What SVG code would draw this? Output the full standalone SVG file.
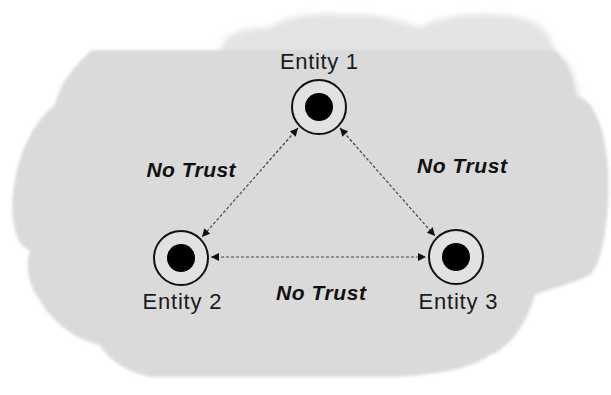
<svg xmlns="http://www.w3.org/2000/svg" width="611" height="395" viewBox="0 0 611 395">
  <defs>
    <filter id="blur" x="-10%" y="-20%" width="120%" height="140%">
      <feGaussianBlur stdDeviation="3"/>
    </filter>
    <filter id="blur2" x="-10%" y="-10%" width="120%" height="120%">
      <feGaussianBlur stdDeviation="1.5"/>
    </filter>
    <marker id="arr" viewBox="0 0 10 10" refX="10" refY="5" markerWidth="9" markerHeight="8" markerUnits="userSpaceOnUse" orient="auto-start-reverse">
      <path d="M0,0 L10,5 L0,10 Z" fill="#111"/>
    </marker>
    <style>
      .lbl { font-family: "Liberation Sans", Arial, sans-serif; font-size: 22px; fill: #1a1a1a; text-anchor: middle; }
      .trust { font-family: "Liberation Sans", Arial, sans-serif; font-size: 21px; font-weight: bold; font-style: italic; fill: #111; text-anchor: middle; }
      .ring { fill: #e2e2e2; stroke: #111; stroke-width: 2; }
      .dot { fill: #000; }
      .edge { stroke: #444; stroke-width: 1.2; stroke-dasharray: 3 2; fill: none; marker-start: url(#arr); marker-end: url(#arr); }
    </style>
  </defs>
  <rect width="611" height="395" fill="#ffffff"/>
  <g id="cloud">
    <path filter="url(#blur)" fill="#e3e3e3" d="M220,55 C220,35 240,27 270,28 C285,15 320,12 345,15 C370,12 400,20 420,28 C440,15 480,12 510,16 C535,18 550,30 555,52 C568,58 578,80 578,100 L560,100 L560,55 Z"/>
    <path filter="url(#blur2)" fill="#dadada" d="M92,50 L553,50 C565,55 575,80 575,95 C600,100 611,150 608,200 C606,240 600,265 590,275 C570,285 545,290 535,295 C525,330 505,350 490,355 C470,370 430,375 398,377 L150,377 C120,370 105,355 100,345 C75,340 50,320 40,300 C28,285 25,265 30,250 C10,245 10,200 15,180 C20,150 35,120 55,105 C60,85 70,70 92,50 Z"/>
  </g>
  <g id="connectors">
    <line class="edge" x1="298" y1="128" x2="202" y2="237"/>
    <line class="edge" x1="340" y1="128" x2="435" y2="236"/>
    <line class="edge" x1="211" y1="257" x2="426" y2="257"/>
  </g>
  <g id="entity1">
    <circle class="ring" cx="319" cy="107" r="27"/>
    <circle class="dot" cx="319" cy="107" r="14"/>
    <text class="lbl" x="319" y="69" textLength="78" lengthAdjust="spacing">Entity 1</text>
  </g>
  <g id="entity2">
    <circle class="ring" cx="181" cy="258" r="27"/>
    <circle class="dot" cx="181" cy="258" r="14"/>
    <text class="lbl" x="182" y="309" textLength="79" lengthAdjust="spacing">Entity 2</text>
  </g>
  <g id="entity3">
    <circle class="ring" cx="456" cy="257" r="27"/>
    <circle class="dot" cx="456" cy="257" r="14"/>
    <text class="lbl" x="458" y="309" textLength="79" lengthAdjust="spacing">Entity 3</text>
  </g>
  <g id="labels">
    <text class="trust" x="191" y="177" textLength="89" lengthAdjust="spacing">No Trust</text>
    <text class="trust" x="462" y="173" textLength="90" lengthAdjust="spacing">No Trust</text>
    <text class="trust" x="321" y="300" textLength="90" lengthAdjust="spacing">No Trust</text>
  </g>
</svg>
